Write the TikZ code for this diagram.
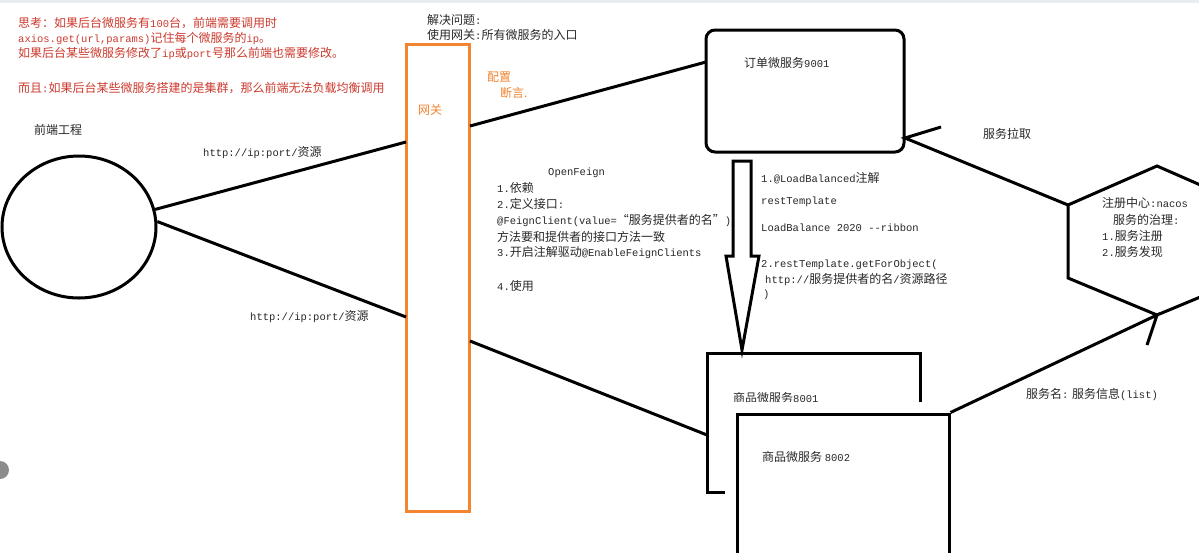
\documentclass[tikz,border=0pt]{standalone}
\usepackage{fontspec}
\setmainfont{Noto Sans CJK SC}
\newfontfamily\monof{Liberation Mono}
\usetikzlibrary{positioning, calc, shapes.geometric}
\definecolor{notered}{RGB}{204,58,46}
\definecolor{gwcolor}{RGB}{243,132,48}
\definecolor{inkcolor}{RGB}{40,40,40}
\definecolor{barcolor}{RGB}{232,237,244}
\newcommand{\mn}[1]{{\monof\fontsize{10.5pt}{12pt}\selectfont #1}}

\begin{document}
\begin{tikzpicture}[x=1pt, y=-1pt,
    txt/.style={anchor=west, inner sep=0pt, font=\fontsize{12pt}{14pt}\selectfont, text=inkcolor},
    note/.style={txt, text=notered},
    gwtxt/.style={txt, text=gwcolor},
    box/.style={draw=black, line width=3pt, inner sep=0pt},
    link/.style={draw=black, line width=3pt, line join=miter}]
  \useasboundingbox (0,0) rectangle (1199,552);
  \clip (0,0) rectangle (1199,552);
  \fill[white] (0,0) rectangle (1199,552);
  \fill[barcolor] (0,0) rectangle (1199,3);
  \fill[black!45] (0,470) circle (9);

  % notes at the top
  \node[note] (q1) at (18,23) {思考：如果后台微服务有\mn{100}台，前端需要调用时};
  \node[note] (q2) at (18,39) {\mn{axios.get(url,params)}记住每个微服务的\mn{ip}。};
  \node[note] (q3) at (18,54) {如果后台某些微服务修改了\mn{ip}或\mn{port}号那么前端也需要修改。};
  \node[note] (q4) at (18,88) {而且\mn{:}如果后台某些微服务搭建的是集群，那么前端无法负载均衡调用};
  \node[txt] (sol1) at (427,20) {解决问题\mn{:}};
  \node[txt] (sol2) at (427,35) {使用网关\mn{:}所有微服务的入口};

  % front end and gateway
  \node[draw, line width=3pt, ellipse, minimum width=154pt, minimum height=142pt] (fe) at (79,227) {};
  \node[txt] (felbl) at (34,130) {前端工程};
  \node[draw=gwcolor, line width=3pt, minimum width=63pt, minimum height=467pt, inner sep=0pt] (gw) at (437.5,277.5) {};
  \node[gwtxt] (gwlbl) at (418,110) {网关};
  \node[gwtxt] (cfg) at (487,77) {配置};
  \node[gwtxt] (pred) at (500,93) {断言.};

  % services
  \node[box, rounded corners=9pt, minimum width=198pt, minimum height=122pt] (order) at (805,91) {};
  \node[txt] (orderlbl) at (744,63) {订单微服务\mn{9001}};
  \node[box, minimum width=213pt, minimum height=139pt] (prod1) at (813.5,422.5) {};
  \node[txt] (prod1lbl) at (733,398) {商品微服务\mn{8001}};
  \node[box, fill=white, preaction={draw=white, line width=24pt},
        minimum width=212pt, minimum height=160pt] (prod2) at (843,494) {};
  \node[txt] (prod2lbl) at (762,457) {商品微服务 \mn{8002}};

  % registry
  \coordinate (hexT) at (1157,166);
  \coordinate (hexLT) at (1068,205);
  \coordinate (hexLB) at (1068,278);
  \coordinate (hexB) at (1157,315);
  \draw[link] (hexT) -- (hexLT) -- (hexLB) -- (hexB) -- (1246,278) -- (1246,205) -- cycle;
  \node[txt] (reg1) at (1102,203) {注册中心\mn{:nacos}};
  \node[txt] (reg2) at (1113,220) {服务的治理\mn{:}};
  \node[txt] (reg3) at (1102,236) {\mn{1.}服务注册};
  \node[txt] (reg4) at (1102,252) {\mn{2.}服务发现};

  % connectors
  \coordinate (gwA) at (406,142);
  \coordinate (gwB) at (406,317);
  \coordinate (gwC) at (470,126);
  \coordinate (gwD) at (470,341);
  \coordinate (orderW) at (706,62);
  \coordinate (orderE) at (905,138);
  \coordinate (orderBarb) at (941,127);
  \coordinate (prod1W) at (707,435);
  \coordinate (hexBarb) at (1147,345);
  \draw[link] (fe.13) -- (gwA);
  \draw[link] (fe.4) -- (gwB);
  \draw[link] (gwC) -- (orderW);
  \draw[link] (gwD) -- (prod1W);
  \draw[link] (hexLT) -- (orderE) -- (orderBarb);
  \draw[link] (prod2.north east) -- (hexB) -- (hexBarb);
  \node[txt] (url1) at (203,153) {\mn{http://ip:port/}资源};
  \node[txt] (url2) at (250,317) {\mn{http://ip:port/}资源};
  \node[txt] (pull) at (983,134) {服务拉取};
  \node[txt] (info) at (1026,394) {服务名\mn{:} 服务信息\mn{(list)}};

  % hollow arrow from order to product
  \draw[link] (733,161) -- (751,161) -- (751,256) -- (759,256) -- (742,350)
    -- (726,256) -- (733,256) -- cycle;
  \node[txt] (lb1) at (761,178) {\mn{1.@LoadBalanced}注解};
  \node[txt] (lb2) at (761,202) {\mn{restTemplate}};
  \node[txt] (lb3) at (761,228) {\mn{LoadBalance 2020 --ribbon}};
  \node[txt] (lb4) at (761,265) {\mn{2.restTemplate.getForObject(}};
  \node[txt] (lb5) at (765,280) {\mn{http://}服务提供者的名\mn{/}资源路径};
  \node[txt] (lb6) at (763,295) {\mn{)}};

  % openfeign notes
  \node[txt] (of0) at (548,173) {\mn{OpenFeign}};
  \node[txt] (of1) at (497,188) {\mn{1.}依赖};
  \node[txt] (of2) at (497,204) {\mn{2.}定义接口\mn{:}};
  \node[txt] (of3) at (497,221) {\mn{@FeignClient(value=}“服务提供者的名”\mn{)}};
  \node[txt] (of4) at (497,237) {方法要和提供者的接口方法一致};
  \node[txt] (of5) at (497,253) {\mn{3.}开启注解驱动\mn{@EnableFeignClients}};
  \node[txt] (of6) at (497,286) {\mn{4.}使用};
\end{tikzpicture}
\end{document}
